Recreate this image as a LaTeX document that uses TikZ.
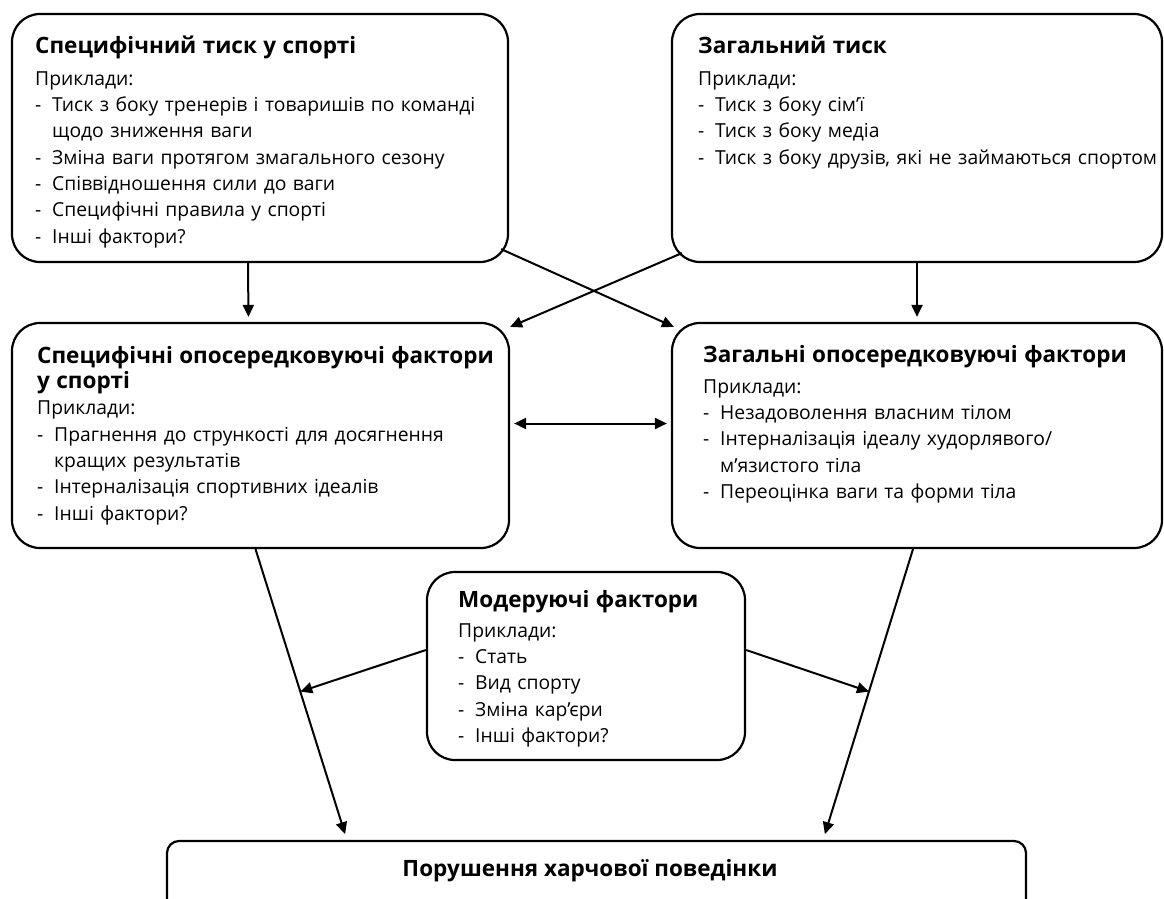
\documentclass[tikz,border=0pt]{standalone}
\usepackage{fontspec}
\setmainfont{Open Sans}
\usetikzlibrary{calc}
\usetikzlibrary{arrows.meta}

\newcommand{\zag}[1]{{\fontsize{22.5}{25.5}\selectfont\bfseries #1\par}}
\newcommand{\punkt}[1]{\par\hangindent=17pt\hangafter=1\noindent\makebox[17pt][l]{-}#1}

\tikzset{
  blok/.style={draw, line width=2.2pt, rounded corners=28pt, inner sep=0pt},
  zmist/.style={anchor=base west, inner sep=0pt, align=left, text width=#1,
    font=\fontsize{19.3}{26.3}\selectfont},
  strilka/.style={line width=2pt, -{Triangle[length=12pt,width=11pt]}},
}

\begin{document}
\begin{tikzpicture}[x=1pt,y=-1pt]
	\clip (0,0) rectangle (1164,899);
	\fill[white] (0,0) rectangle (1164,899);
	%блоки
	\node[blok, minimum width=496pt, minimum height=248pt] (tyskSp) at (260,138) {};
	\node[blok, minimum width=490pt, minimum height=248pt] (tyskZag) at (917,138) {};
	\node[blok, minimum width=497pt, minimum height=225pt] (faktSp) at (260.5,435.5) {};
	\node[blok, minimum width=490pt, minimum height=225pt] (faktZag) at (917,435.5) {};
	\node[blok, minimum width=318pt, minimum height=188pt] (moder) at (586,666) {};
	\node[blok, rounded corners=12pt, minimum width=859pt, minimum height=78pt] (porush) at (596.5,880) {};
	%тексти
	\node[zmist=470pt] (tyskSpT) at (35,54) {\zag{Специфічний тиск у спорті}\vspace{5pt}
		Приклади:
		\punkt{Тиск з боку тренерів і товаришів по команді\newline щодо зниження ваги}
		\punkt{Зміна ваги протягом змагального сезону}
		\punkt{Співвідношення сили до ваги}
		\punkt{Специфічні правила у спорті}
		\punkt{Інші фактори?}\par};
	\node[zmist=490pt] (tyskZagT) at (698,54) {\zag{Загальний тиск}\vspace{5pt}
		Приклади:
		\punkt{Тиск з боку сім’ї}
		\punkt{Тиск з боку медіа}
		\punkt{Тиск з боку друзів, які не займаються спортом}\par};
	\node[zmist=465pt] (faktSpT) at (37,363) {\zag{Специфічні опосередковуючі фактори\newline у спорті}
		Приклади:
		\punkt{Прагнення до стрункості для досягнення\newline кращих результатів}
		\punkt{Інтерналізація спортивних ідеалів}
		\punkt{Інші фактори?}\par};
	\node[zmist=455pt] (faktZagT) at (703,362) {\zag{Загальні опосередковуючі фактори}\vspace{5pt}
		Приклади:
		\punkt{Незадоволення власним тілом}
		\punkt{Інтерналізація ідеалу худорлявого/\newline м’язистого тіла}
		\punkt{Переоцінка ваги та форми тіла}\par};
	\node[zmist=280pt] (moderT) at (458,607) {\zag{Модеруючі фактори}\vspace{4pt}
		Приклади:
		\punkt{Стать}
		\punkt{Вид спорту}
		\punkt{Зміна кар’єри}
		\punkt{Інші фактори?}\par};
	\node[inner sep=0pt, font=\fontsize{22.5}{25}\selectfont\bfseries] (porushT) at (590,871) {Порушення харчової поведінки};
	%стрілки
	\draw[strilka, shorten >=5pt] ([xshift=-12pt]tyskSp.south) -- ([xshift=-12pt]faktSp.north);
	\draw[strilka, shorten >=5pt] (tyskZag.south) -- (faktZag.north);
	\draw[strilka] ([shift={(-8pt,14pt)}]tyskSp.south east) -- ([shift={(3pt,-5pt)}]faktZag.north west);
	\draw[strilka] ([shift={(11pt,10pt)}]tyskZag.south west) -- ([shift={(0pt,-5pt)}]faktSp.north east);
	\draw[strilka, {Triangle[length=12pt,width=11pt]}-{Triangle[length=12pt,width=11pt]}, shorten <=4pt, shorten >=4pt] ([yshift=12pt]faktSp.east) -- ([yshift=12pt]faktZag.west);
	%до порушення
	\coordinate (lp) at ([xshift=-5pt]faktSp.south);
	\coordinate (pp) at ([xshift=-4pt]faktZag.south);
	\coordinate (lk) at ([xshift=181pt]porush.north west);
	\coordinate (pk) at ([xshift=-204pt]porush.north east);
	\draw[strilka, shorten >=6pt] (lp) -- (lk);
	\draw[strilka, shorten >=6pt] (pp) -- (pk);
	\draw[strilka] ([yshift=16pt]moder.west) -- ($(lp)!0.49!(lk)$);
	\draw[strilka] ([yshift=16pt]moder.east) -- ($(pp)!0.49!(pk)$);
\end{tikzpicture}
\end{document}
